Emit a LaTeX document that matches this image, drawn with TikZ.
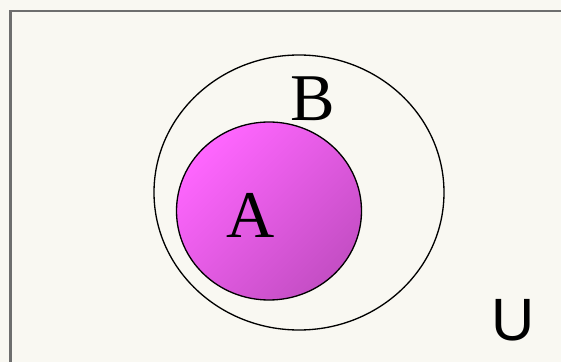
\documentclass[tikz,border=0pt]{standalone}
\usepackage{fontspec}
\setmainfont{Liberation Serif}
\newfontfamily\labelsans{Liberation Sans}
\definecolor{paper}{RGB}{249,248,242}
\definecolor{framegray}{RGB}{110,110,110}
\definecolor{setlight}{RGB}{255,102,255}
\definecolor{setdark}{RGB}{196,78,196}

\begin{document}
\begin{tikzpicture}
	    \useasboundingbox (0,0) rectangle (11.22,7.24);
	    \clip (0,0) rectangle (11.22,7.24);
	    \fill[paper] (0,0) rectangle (11.22,7.24);
	    \draw[framegray, line width=1.3pt] (0.21,-1) -- (0.21,7.02) -- (12,7.02);
	    \draw[black, line width=0.75pt] (5.98,3.39) ellipse (2.9 and 2.75);
	    \shade[draw=black, line width=0.75pt, left color=setlight, right color=setdark, shading angle=45] (5.38,3.02) ellipse (1.85 and 1.78);
	    \node (setB) at (6.26,5.26) {\fontsize{38}{40}\selectfont B};
	    \node (setA) at (5.02,2.94) {\fontsize{38}{40}\selectfont A};
	    \node (univ) at (10.26,0.84) {\labelsans\fontsize{34}{36}\selectfont U};
	\end{tikzpicture}
\end{document}
